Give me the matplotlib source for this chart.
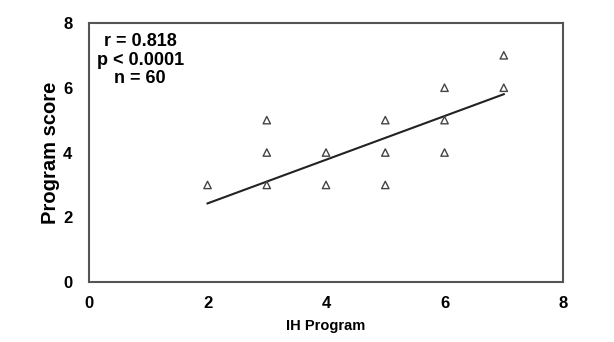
import numpy as np
import matplotlib.pyplot as plt

plt.rcParams['font.family'] = ['Liberation Sans', 'DejaVu Sans']

# observed points (overlapping duplicates drawn once)
ih_program = [2, 3, 3, 3, 4, 4, 5, 5, 5, 6, 6, 6, 7, 7]
program_score = [3, 3, 4, 5, 3, 4, 3, 4, 5, 4, 5, 6, 6, 7]

# fitted regression line endpoints
fit_x = [2, 7]
fit_y = [2.43, 5.8]

ticks = [0, 2, 4, 6, 8]

fig = plt.figure(figsize=(6.14, 3.42), dpi=100)
ax = fig.add_axes([0.145, 0.175, 0.772, 0.758])

ax.scatter(ih_program, program_score, marker='^', s=28, facecolors='none',
           edgecolors='#444444', linewidths=1.0, zorder=3)
ax.plot(fit_x, fit_y, color='#222222', lw=1.5, zorder=2)

ax.set_xlim(0, 8)
ax.set_ylim(0, 8)
ax.set_xticks(ticks)
ax.set_yticks(ticks)
ax.tick_params(axis='x', length=0, labelsize=12, pad=10)
ax.tick_params(axis='y', length=0, labelsize=12, pad=12)
for lab in ax.get_xticklabels() + ax.get_yticklabels():
    lab.set_fontweight('bold')

for s in ax.spines.values():
    s.set_color('#555555')
    s.set_linewidth(1.5)

ax.set_xlabel('IH Program', fontsize=10.5, fontweight='bold', labelpad=6)
ax.set_ylabel('Program score', fontsize=14.5, fontweight='bold', labelpad=2)

ax.text(0.108, 0.96, 'r = 0.818\np < 0.0001\nn = 60', transform=ax.transAxes,
        ha='center', va='top', fontsize=13, fontweight='bold',
        linespacing=1.12)

fig.savefig('out.png', dpi=100)
